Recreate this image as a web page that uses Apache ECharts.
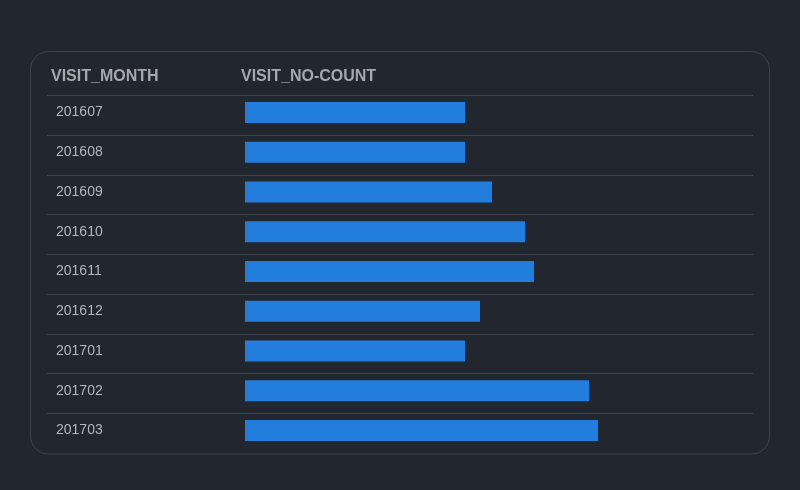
<!DOCTYPE html>
<html>
<head>
<meta charset="utf-8">
<script src="https://cdn.jsdelivr.net/npm/echarts@6/dist/echarts.min.js"></script>
<style>
html,body{margin:0;padding:0;background:#22262f;}
#chart{width:800px;height:490px;}
</style>
</head>
<body>
<div id="chart"></div>
<script>
const months = ['201607','201608','201609','201610','201611','201612','201701','201702','201703'];
const visitCounts = [2200, 2200, 2470, 2800, 2890, 2350, 2200, 3440, 3530];
const scaleMax = 5080;
const headers = ['VISIT_MONTH', 'VISIT_NO-COUNT'];

const chart = echarts.init(document.getElementById('chart'), null, {renderer: 'canvas'});
const font = '"Liberation Sans", Arial, sans-serif';
chart.setOption({
  backgroundColor: '#22262f',
  animation: false,
  graphic: [
    {type: 'rect', shape: {x: 30.5, y: 51.5, width: 739, height: 402.5, r: 18}, z: 0,
     style: {fill: '#22262f', stroke: '#3e444e', lineWidth: 1}},
    {type: 'text', x: 51, y: 76.5, z: 10, style: {text: headers[0], fill: '#a5a8ad', font: 'bold 16px ' + font, textVerticalAlign: 'middle'}},
    {type: 'text', x: 241, y: 76.5, z: 10, style: {text: headers[1], fill: '#a5a8ad', font: 'bold 16px ' + font, textVerticalAlign: 'middle'}}
  ],
  grid: [
    {left: 47, right: 47, top: 95.3, height: 357.75},
    {left: 245, right: 47, top: 92.6, height: 357.75}
  ],
  xAxis: [
    {gridIndex: 0, type: 'value', min: 0, max: 1, show: false},
    {gridIndex: 1, type: 'value', min: 0, max: scaleMax, show: false}
  ],
  yAxis: [
    {gridIndex: 0, type: 'category', data: months, inverse: true,
     axisLine: {show: false}, axisTick: {show: false}, axisLabel: {show: false},
     splitLine: {show: true, showMinLine: true, showMaxLine: false, lineStyle: {color: '#3d434d', width: 1}}},
    {gridIndex: 1, type: 'category', data: months, inverse: true,
     axisLine: {show: false}, axisTick: {show: false}, splitLine: {show: false},
     axisLabel: {color: '#b3b6bb', fontSize: 14, fontFamily: font, align: 'left', margin: 189, padding: [2, 0, 0, 0]}}
  ],
  series: [
    {type: 'bar', xAxisIndex: 1, yAxisIndex: 1, data: visitCounts, barWidth: 21,
     itemStyle: {color: '#237ddc'}, z: 5}
  ]
});
</script>
</body>
</html>
